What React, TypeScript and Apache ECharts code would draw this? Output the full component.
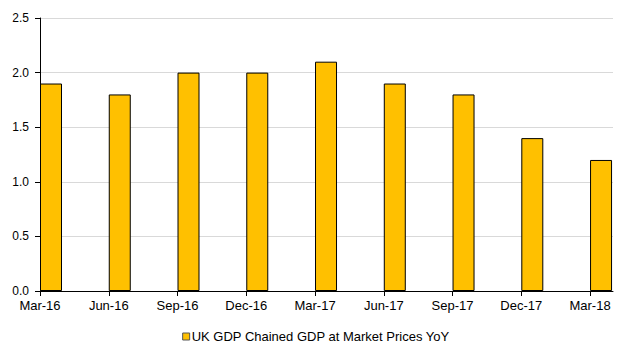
import React, { useEffect, useRef } from "react";
import * as echarts from "echarts";

const categories = ["Mar-16", "Jun-16", "Sep-16", "Dec-16", "Mar-17", "Jun-17", "Sep-17", "Dec-17", "Mar-18"];
const gdpYoY = [1.9, 1.8, 2.0, 2.0, 2.1, 1.9, 1.8, 1.4, 1.2];
const yTicks = [0, 0.5, 1.0, 1.5, 2.0, 2.5];
const seriesName = "UK GDP Chained GDP at Market Prices YoY";

export default function App() {
  const ref = useRef<HTMLDivElement>(null);
  useEffect(() => {
    const chart = echarts.init(ref.current!, null, { renderer: "svg" });
    const positions = categories.map((_, i) => i);
    const pairs = gdpYoY.map((v, i) => [i, v]);
    const font = "Liberation Sans, Arial, sans-serif";
    chart.setOption({
      animation: false,
      textStyle: { fontFamily: font },
      grid: { left: 40, right: 19, top: 18, bottom: 69, containLabel: false },
      legend: {
        data: [seriesName],
        bottom: 12,
        left: "center",
        icon: "rect",
        itemWidth: 7,
        itemHeight: 7,
        itemGap: 10,
        itemStyle: { borderColor: "#555", borderWidth: 1 },
        textStyle: { fontFamily: font, fontSize: 13, color: "#000", padding: [0, 0, 0, -3] },
      },
      xAxis: {
        type: "value",
        min: 0,
        max: (categories.length - 1) * 1.0417,
        splitLine: { show: false },
        axisLine: { show: true, lineStyle: { color: "#000", width: 1 } },
        axisTick: { show: true, customValues: positions, length: 5, lineStyle: { color: "#000" } },
        axisLabel: {
          customValues: positions,
          formatter: (v: number) => categories[Math.round(v)] ?? "",
          color: "#000",
          fontSize: 13,
          fontFamily: font,
          margin: 8,
        },
      },
      yAxis: {
        type: "value",
        min: yTicks[0],
        max: yTicks[yTicks.length - 1],
        interval: 0.5,
        axisLine: { show: true, lineStyle: { color: "#000", width: 1 } },
        axisTick: { show: true, length: 5, inside: false, lineStyle: { color: "#000" } },
        axisLabel: {
          formatter: (v: number) => v.toFixed(1),
          color: "#000",
          fontSize: 12,
          fontFamily: font,
          margin: 11,
        },
        splitLine: { show: true, lineStyle: { color: "#d9d9d9", width: 1 } },
      },
      series: [
        {
          name: "spacer",
          type: "bar",
          data: pairs,
          barWidth: 22,
          barGap: "0%",
          itemStyle: { color: "transparent" },
          silent: true,
        },
        {
          name: seriesName,
          type: "bar",
          data: pairs,
          barWidth: 22,
          barGap: "0%",
          itemStyle: { color: "#FFC000", borderColor: "#000", borderWidth: 1 },
        },
      ],
    });
    return () => chart.dispose();
  }, []);
  return <div ref={ref} style={{ width: 632, height: 360, position: "absolute", left: 0, top: 0 }} />;
}
